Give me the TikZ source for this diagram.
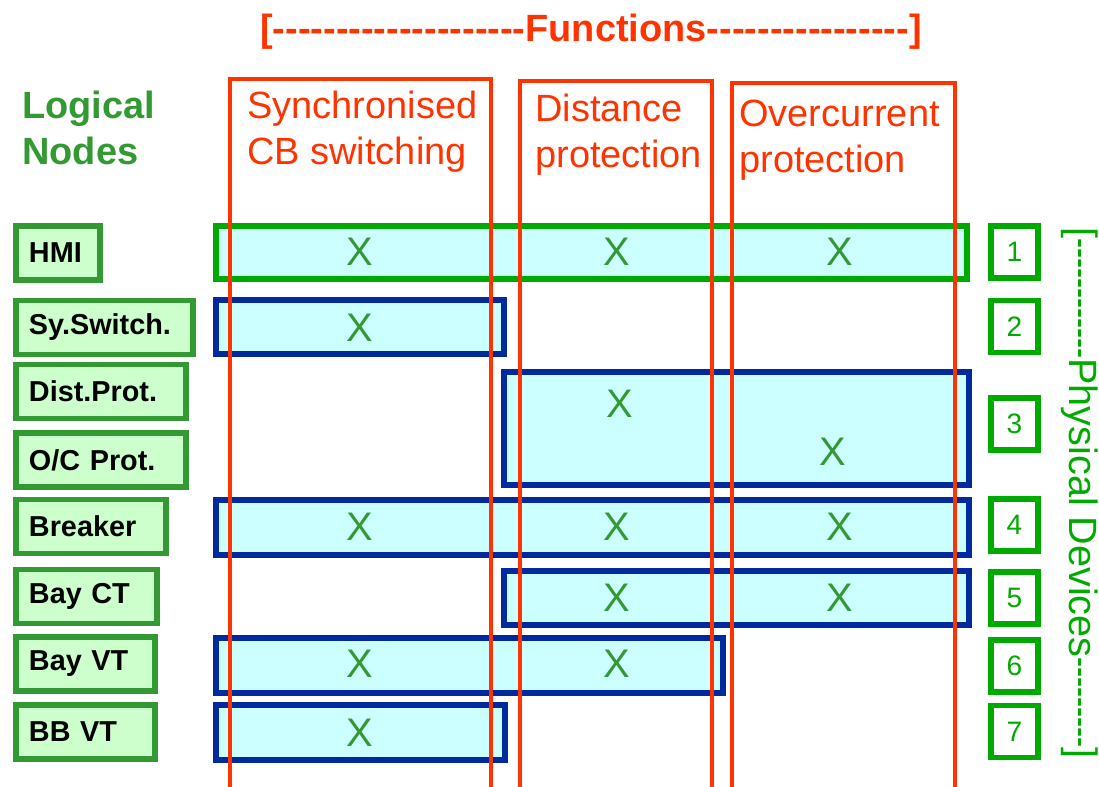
\documentclass[tikz,border=0pt]{standalone}
\usepackage{fontspec}
\setmainfont{Liberation Sans}[Ligatures=TeXOff]
\newfontfamily\narrowdash{Liberation Sans}[FakeStretch=0.76, Ligatures=TeXOff]

\definecolor{fnred}{HTML}{FF3300}
\definecolor{lngreen}{HTML}{339933}
\definecolor{pdgreen}{HTML}{00AA00}
\definecolor{rowblue}{HTML}{002A9E}
\definecolor{rowfill}{HTML}{CCFFFF}
\definecolor{lnfill}{HTML}{CCFFCC}

\tikzset{
  fnbox/.style={draw=fnred, line width=2.3pt},
  fntext/.style={text=fnred, font=\fontsize{21.6}{26.7}\selectfont, align=left, anchor=base west, inner sep=0pt},
  rowband/.style={draw=#1, fill=rowfill, line width=3.4pt},
  lnbox/.style={draw=lngreen, fill=lnfill, line width=3.4pt, anchor=west, inner xsep=0.26cm,
    minimum height=1.08cm, align=left, font=\fontsize{16.4}{18}\selectfont\bfseries},
  pdbox/.style={draw=pdgreen, fill=white, line width=3.4pt, minimum width=0.94cm, minimum height=1.04cm,
    text=pdgreen, font=\fontsize{16}{18}\selectfont},
  crossmark/.style={text=lngreen, font=\fontsize{22.7}{26}\selectfont, inner sep=0pt}
}

\begin{document}
\begin{tikzpicture}[x=0.02cm, y=-0.02cm]
    \useasboundingbox (0,0) rectangle (1099,787);

    % Title
    \node[text=fnred, font=\fontsize{21.6}{26}\selectfont\bfseries, anchor=base, inner sep=0pt] (title) at (591,42)
        {[--------------------Functions----------------]};

    \node[text=lngreen, font=\fontsize{21.6}{26.7}\selectfont\bfseries, align=left, anchor=base west, inner sep=0pt]
        (lntitle) at (22,165) {Logical\\Nodes};

    % Rows of logical nodes per device
    \draw[rowband=pdgreen] (216,226) rectangle (967,279);
    \foreach \xa/\ya/\xb/\yb in {216/300/504/354, 504/372/969/485, 216/500/969/555,
                                 504/571/969/625, 216/638/723/693, 216/705/505/760} {
        \draw[rowband=rowblue] (\xa,\ya) rectangle (\xb,\yb);
    }

    % Functions
    \draw[fnbox] (230,79) rectangle (491,800);
    \draw[fnbox] (520,81) rectangle (712,800);
    \draw[fnbox] (732,83) rectangle (955,800);
    \node[fntext] (fsync) at (247,165) {Synchronised\\CB switching};
    \node[fntext] (fdist) at (535,168) {Distance\\protection};
    \node[fntext] (fovc) at (739,173) {Overcurrent\\protection};

    % Marks
    \foreach \x/\y/\n in {360/252/1, 617/252/2, 840/252/3, 360/328/4, 620/404/5, 833/452/6,
                          360/527/7, 617/527/8, 840/527/9, 617/598/10, 840/598/11,
                          360/664/12, 617/664/13, 360/733/14} {
        \node[crossmark] (x\n) at (\x,\y) {X};
    }

    % Logical nodes
    \foreach \n/\y/\w/\t in {hmi/253/84/HMI, sys/327.5/177/Sy.Switch., dist/391.5/170/Dist.Prot.,
                             oc/460/170/{O/C Prot.}, brk/526.5/150/Breaker, bct/596.5/141/Bay CT,
                             bvt/664/139/Bay VT, bbvt/732/139/BB VT} {
        \pgfmathsetmacro\tw{(\w-26)*0.02}
        \node[lnbox, text width=\tw cm] (ln\n) at (13,\y) {\t};
    }

    % Physical devices
    \foreach \n/\y in {1/252, 2/326.5, 3/424, 4/525, 5/598, 6/666, 7/731.5} {
        \node[pdbox] (pd\n) at (1014.5,\y) {\n};
    }
    \node[text=pdgreen, font=\fontsize{22.5}{26}\selectfont, rotate=-90, inner sep=0pt] (pdtitle) at (1080,493)
        {[{\narrowdash------------}Physical Devices{\narrowdash---------}]};
\end{tikzpicture}
\end{document}
